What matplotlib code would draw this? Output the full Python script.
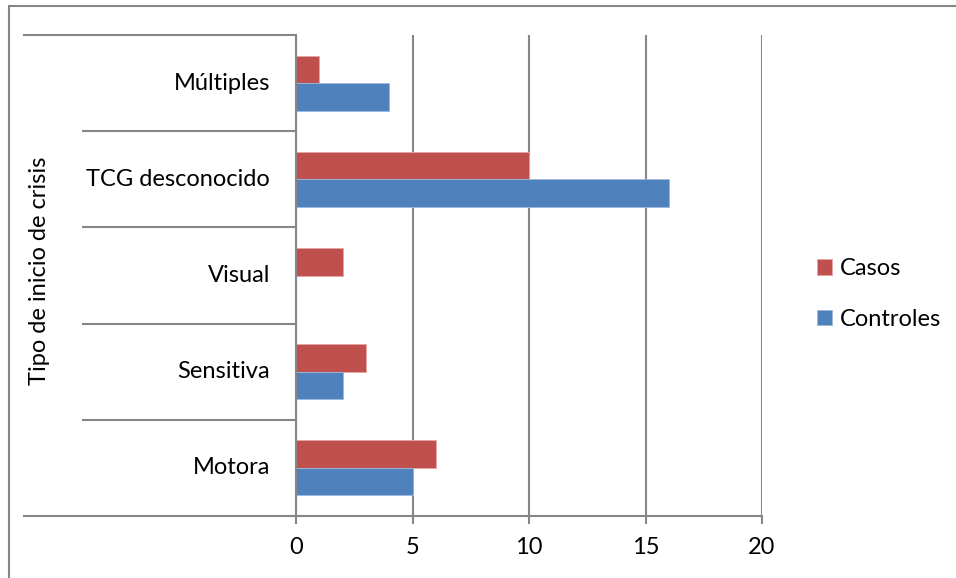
import matplotlib.pyplot as plt
from matplotlib.patches import Rectangle
import numpy as np

categorias = ["Motora", "Sensitiva", "Visual", "TCG desconocido", "Múltiples"]
casos = [6, 3, 2, 10, 1]
controles = [5, 2, 0, 16, 4]
ticks_x = [0, 5, 10, 15, 20]

ROJO = "#C0504D"
AZUL = "#4F81BD"
GRIS = "#868686"
TAM = 17

plt.rcParams["font.family"] = ["Lato", "DejaVu Sans"]

W, H = 956, 578
fig = plt.figure(figsize=(W / 100, H / 100), dpi=100)
ax = fig.add_axes([296 / W, (H - 516) / H, (762 - 296) / W, (516 - 35) / H])

y = np.arange(len(categorias))
alto = 1 / 3.5  # gap width 150%
ax.barh(y + alto / 2, casos, height=alto, color=ROJO, edgecolor="#E6A6A4",
        linewidth=0.6, label="Casos", zorder=3)
ax.barh(y - alto / 2, controles, height=alto, color=AZUL, edgecolor="#9DB9DD",
        linewidth=0.6, label="Controles", zorder=3)

ax.set_xlim(0, 20)
ax.set_ylim(-0.5, len(categorias) - 0.5)
ax.set_xticks(ticks_x)
ax.set_xticklabels([str(t) for t in ticks_x], fontsize=TAM)
ax.tick_params(axis="x", length=6, width=1.5, color=GRIS, pad=9)
ax.set_yticks([])
ax.grid(axis="x", color=GRIS, linewidth=1.5, zorder=0)
for s in ["top", "right"]:
    ax.spines[s].set_visible(False)
for s in ["left", "bottom"]:
    ax.spines[s].set_color(GRIS)
    ax.spines[s].set_linewidth(1.5)
    ax.spines[s].set_zorder(4)

# separadores de categorías a la izquierda del eje
trans = ax.get_yaxis_transform()
bordes = np.arange(-0.5, len(categorias), 1.0)
for i, b in enumerate(bordes):
    x0 = -0.586 if i in (0, len(bordes) - 1) else -0.459
    ax.plot([x0, 0], [b, b], color=GRIS, linewidth=1.5, transform=trans,
            clip_on=False, solid_capstyle="butt")

for yi, nombre in zip(y, categorias):
    ax.text(-0.056, yi, nombre, transform=trans, ha="right", va="center",
            fontsize=TAM)

fig.text(40 / W, 1 - 271 / H, "Tipo de inicio de crisis", rotation=90,
         ha="center", va="center", fontsize=TAM)

ax.legend(loc="center left", bbox_to_anchor=(817 / W, 1 - 294 / H),
          bbox_transform=fig.transFigure, frameon=False, fontsize=TAM,
          handlelength=0.64, handleheight=0.64, handletextpad=0.34,
          labelspacing=1.25, borderaxespad=0, borderpad=0)

# borde del área del gráfico
fig.patches.append(Rectangle((9 / W, -0.1), 1.2, 1 - 6 / H + 0.1,
                             transform=fig.transFigure, fill=False,
                             edgecolor=GRIS, linewidth=1.5))

fig.savefig("out.png", dpi=100)
